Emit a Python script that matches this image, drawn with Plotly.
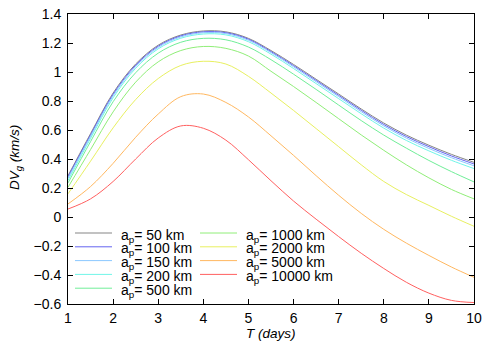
import plotly.graph_objects as go

T_days = [1, 1.5, 2, 2.5, 3, 3.5, 4, 4.5, 5, 5.5, 6, 6.5, 7, 7.5, 8, 8.5, 9, 9.5, 10]

dv_50 = [0.285, 0.575, 0.855, 1.055, 1.185, 1.255, 1.283, 1.277, 1.232, 1.148, 1.052, 0.95, 0.848, 0.745, 0.648, 0.565, 0.495, 0.432, 0.377]
dv_100 = [0.277, 0.566, 0.846, 1.047, 1.178, 1.249, 1.277, 1.271, 1.226, 1.141, 1.044, 0.942, 0.839, 0.736, 0.638, 0.555, 0.485, 0.421, 0.366]
dv_150 = [0.267, 0.556, 0.836, 1.038, 1.170, 1.242, 1.271, 1.265, 1.219, 1.134, 1.036, 0.933, 0.830, 0.726, 0.628, 0.544, 0.473, 0.409, 0.353]
dv_200 = [0.252, 0.542, 0.822, 1.026, 1.160, 1.233, 1.262, 1.256, 1.209, 1.123, 1.024, 0.920, 0.816, 0.712, 0.613, 0.528, 0.456, 0.391, 0.334]
dv_500 = [0.235, 0.52, 0.795, 0.995, 1.13, 1.205, 1.232, 1.222, 1.172, 1.085, 0.985, 0.88, 0.772, 0.665, 0.565, 0.475, 0.39, 0.313, 0.242]
dv_1000 = [0.205, 0.465, 0.725, 0.93, 1.07, 1.148, 1.176, 1.163, 1.11, 1.005, 0.9, 0.79, 0.678, 0.566, 0.46, 0.36, 0.27, 0.19, 0.125]
dv_2000 = [0.16, 0.385, 0.615, 0.81, 0.955, 1.045, 1.074, 1.055, 0.97, 0.855, 0.735, 0.61, 0.485, 0.36, 0.245, 0.155, 0.08, 0.005, -0.064]
dv_5000 = [0.09, 0.21, 0.37, 0.55, 0.71, 0.83, 0.848, 0.79, 0.69, 0.56, 0.425, 0.285, 0.15, 0.025, -0.085, -0.18, -0.265, -0.345, -0.416]
dv_10000 = [0.055, 0.125, 0.245, 0.4, 0.545, 0.628, 0.612, 0.53, 0.395, 0.25, 0.11, -0.015, -0.135, -0.25, -0.355, -0.45, -0.525, -0.575, -0.59]

labels = ["50", "100", "150", "200", "500", "1000", "2000", "5000", "10000"]
series = [dv_50, dv_100, dv_150, dv_200, dv_500, dv_1000, dv_2000, dv_5000, dv_10000]
colors = ["#858585", "#6464f0", "#8cc8ff", "#70f5e8", "#70ee98", "#90ee78", "#e8f060", "#ffb860", "#ff6060"]

y_ticks = [-0.6, -0.4, -0.2, 0, 0.2, 0.4, 0.6, 0.8, 1.0, 1.2, 1.4]
y_tick_text = ["\u22120.6", "\u22120.4", "\u22120.2", "0", "0.2", "0.4", "0.6", "0.8", "1", "1.2", "1.4"]
x_ticks = [1, 2, 3, 4, 5, 6, 7, 8, 9, 10]

W, H = 498, 349
ML, MR, MT, MB = 68, 24, 14, 45
PW, PH = W - ML - MR, H - MT - MB

def px_x(p):
    return (p - ML) / PW

def px_y(p):
    return (H - MB - p) / PH

FAM = "Liberation Sans, Arial, Helvetica, sans-serif"
font = dict(family=FAM, size=14, color="black")
title_font = dict(family=FAM, size=13.5, color="black")

fig = go.Figure()
for lab, ys, col in zip(labels, series, colors):
    fig.add_trace(go.Scatter(
        x=T_days, y=ys, mode="lines", line=dict(color=col, width=1, shape="spline", smoothing=1.0),
        name="a<sub>p</sub>= " + lab + " km", showlegend=False,
    ))

# manual two-column key (gnuplot style)
shapes, annotations = [], []
for i, (lab, col) in enumerate(zip(labels, colors)):
    c, r = (0, i) if i < 5 else (1, i - 5)
    line_x0 = 75 + c * 125
    row_y = 233 + r * 13.8
    shapes.append(dict(type="line", xref="paper", yref="paper",
                       x0=px_x(line_x0), x1=px_x(line_x0 + 37), y0=px_y(row_y), y1=px_y(row_y),
                       line=dict(color=col, width=1)))
    annotations.append(dict(xref="paper", yref="paper", x=px_x(line_x0 + 44), y=px_y(row_y + 2.5),
                            xanchor="left", yanchor="middle", showarrow=False,
                            text="a<sub>p</sub>= " + lab + " km", font=font))

# axis titles
annotations.append(dict(xref="paper", yref="paper", x=px_x(271), y=px_y(333),
                        xanchor="center", yanchor="middle", showarrow=False,
                        text="<i>T (days)</i>", font=title_font))
annotations.append(dict(xref="paper", yref="paper", x=px_x(15), y=px_y(158),
                        xanchor="center", yanchor="middle", showarrow=False, textangle=-90,
                        text="<i>DV<sub>g</sub> (km/s)</i>", font=title_font))

axis_common = dict(
    showline=True, linecolor="black", linewidth=1, mirror="ticks", automargin=False,
    ticks="inside", ticklen=5, tickcolor="black", showgrid=False, zeroline=False,
    tickfont=font,
)
fig.update_layout(
    width=W, height=H,
    margin=dict(l=ML, r=MR, t=MT, b=MB, autoexpand=False),
    paper_bgcolor="white", plot_bgcolor="white",
    font=font,
    xaxis=dict(range=[1, 10], tickvals=x_ticks, ticklabelstandoff=1, **axis_common),
    yaxis=dict(range=[-0.6, 1.4], tickvals=y_ticks, ticktext=y_tick_text, ticklabelstandoff=3,
               **axis_common),
    shapes=shapes, annotations=annotations,
)
fig.write_html("out.html", config={"displayModeBar": False},
               post_script="document.body.style.margin='0';document.body.style.padding='0';")
